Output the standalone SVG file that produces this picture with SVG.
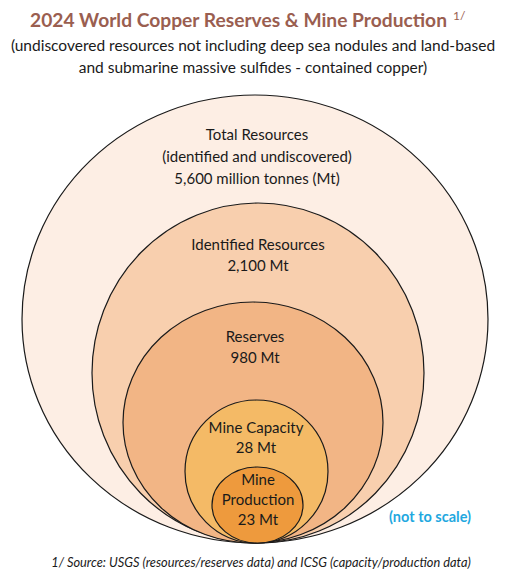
<svg xmlns="http://www.w3.org/2000/svg" width="507" height="577" viewBox="0 0 507 577">
<style>
.c{stroke:#1a1a1a;stroke-width:1.2}
.t{font-family:Lato,"Open Sans",sans-serif;font-size:15px;fill:#1a1a1a;text-anchor:middle}
</style>
<rect width="507" height="577" fill="#ffffff"/>
<g id="title">
<text x="30" y="27" textLength="417" lengthAdjust="spacingAndGlyphs" font-family="Lato,'Open Sans',sans-serif" font-weight="bold" font-size="19.5" fill="#9A5E50">2024 World Copper Reserves &amp; Mine Production</text>
<text x="453" y="20" font-family="Lato,'Open Sans',sans-serif" font-size="12" fill="#9A5E50">1/</text>
<text x="253" y="51" text-anchor="middle" font-family="Lato,'Open Sans',sans-serif" font-size="15.5" fill="#1a1a1a">(undiscovered resources not including deep sea nodules and land-based</text>
<text x="253" y="73" text-anchor="middle" font-family="Lato,'Open Sans',sans-serif" font-size="15.5" fill="#1a1a1a">and submarine massive sulfides - contained copper)</text>
</g>
<g id="total">
<ellipse class="c" cx="255" cy="319" rx="233" ry="224" fill="#FDEEE4"/>
<text class="t" x="257" y="140">Total Resources</text>
<text class="t" x="257" y="162">(identified and undiscovered)</text>
<text class="t" x="257" y="184">5,600 million tonnes (Mt)</text>
</g>
<g id="identified">
<ellipse class="c" cx="258" cy="373" rx="166" ry="170" fill="#F8CFAE"/>
<text class="t" x="258" y="250">Identified Resources</text>
<text class="t" x="258" y="271">2,100 Mt</text>
</g>
<g id="reserves">
<ellipse class="c" cx="253" cy="422.5" rx="130" ry="120.5" fill="#F2B585"/>
<text class="t" x="255" y="342">Reserves</text>
<text class="t" x="255" y="363">980 Mt</text>
</g>
<g id="capacity">
<ellipse class="c" cx="256.5" cy="471.5" rx="71.5" ry="71.5" fill="#F4BA66"/>
<text class="t" x="256" y="433">Mine Capacity</text>
<text class="t" x="256" y="453">28 Mt</text>
</g>
<g id="production">
<ellipse class="c" cx="257.5" cy="505" rx="45.5" ry="38" fill="#EE9A3D"/>
<text class="t" x="258" y="485">Mine</text>
<text class="t" x="258" y="505">Production</text>
<text class="t" x="258" y="525">23 Mt</text>
</g>
<g id="connectors"/>
<text x="430" y="522" text-anchor="middle" font-family="Lato,'Open Sans',sans-serif" font-weight="bold" font-size="14.5" fill="#1FA8E0">(not to scale)</text>
<text x="261" y="567" text-anchor="middle" font-family="Lato,'Open Sans',sans-serif" font-style="italic" font-size="12.8" fill="#1a1a1a">1/ Source: USGS (resources/reserves data) and ICSG (capacity/production data)</text>
</svg>
